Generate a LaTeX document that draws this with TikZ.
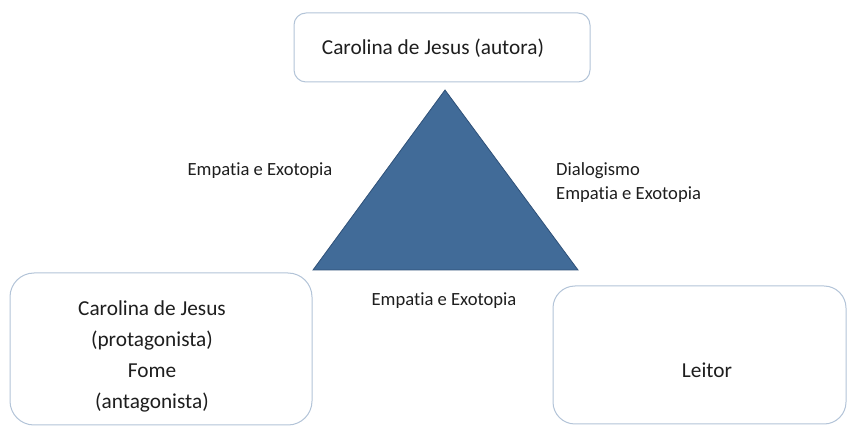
\documentclass[tikz,border=0pt]{standalone}
\usepackage{fontspec}
\setmainfont{Carlito}[Ligatures=CommonOff]
\definecolor{boxline}{HTML}{B3C4D8}
\definecolor{trifill}{HTML}{416B98}
\definecolor{triline}{HTML}{2E5078}
\definecolor{txt}{HTML}{1E1E1E}
\begin{document}
\begin{tikzpicture}[x=1pt,y=-1pt,
  roundbox/.style={draw=boxline, line width=1pt, fill=white, rectangle, inner sep=0pt},
  boxtext/.style={text=txt, font=\fontsize{21.3}{31}\selectfont, align=center},
  edgelabel/.style={text=txt, font=\fontsize{18.6}{24}\selectfont, inner sep=0pt}]
\useasboundingbox (0,0) rectangle (849,427);
\clip (0,0) rectangle (849,427);

% author box
\node[roundbox, rounded corners=12pt, minimum width=296pt, minimum height=69pt]
  (autora) at (442,47.5) {};
\node[boxtext] (autoratxt) at (433,48) {Carolina de Jesus (autora)};

% protagonist / antagonist box
\node[roundbox, rounded corners=24pt, minimum width=302pt, minimum height=152pt]
  (prota) at (161,349) {};
\node[boxtext] (protatxt) at (152,356)
  {Carolina de Jesus\\(protagonista)\\Fome\\(antagonista)};

% reader box
\node[roundbox, rounded corners=22pt, minimum width=293pt, minimum height=138pt]
  (leitor) at (699.5,355) {};
\node[boxtext] (leitortxt) at (707,370) {Leitor};

% central triangle
\coordinate (apex) at (445,90);
\coordinate (bl) at (313,270);
\coordinate (br) at (578,270);
\filldraw[fill=trifill, draw=triline, line width=0.8pt, line join=miter]
  (apex) -- (bl) -- (br) -- cycle;

% labels of the triangle sides
\node[edgelabel] (esq) at (260,171) {Empatia e Exotopia};
\node[edgelabel, anchor=west, align=left] (dir) at (556,183)
  {Dialogismo\\Empatia e Exotopia};
\node[edgelabel] (base) at (444,301) {Empatia e Exotopia};
\end{tikzpicture}
\end{document}
